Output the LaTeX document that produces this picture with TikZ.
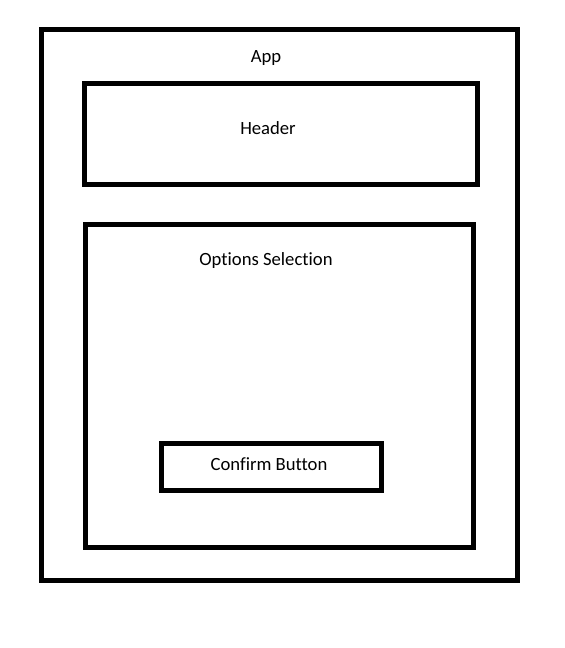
\documentclass[tikz,border=0pt]{standalone}
\usepackage{fontspec}
\setmainfont[Ligatures=NoCommon]{Carlito}
\begin{document}
\begin{tikzpicture}[x=0.75pt,y=-0.75pt,
  box/.style={draw=black,line width=3.75pt,inner sep=0pt,rectangle},
  lbl/.style={font=\fontsize{14pt}{16pt}\selectfont,text=black,inner sep=0pt}]
\useasboundingbox[fill=white] (0,0) rectangle (564,648);
\node[box,minimum width=356.5pt,minimum height=413.6pt] (app) at (279.35,304.75) {};
\node[box,minimum width=294.75pt,minimum height=75.75pt] (header) at (280.5,134.5) {};
\node[box,minimum width=290.5pt,minimum height=241.5pt] (options) at (279.65,386) {};
\node[box,minimum width=165.2pt,minimum height=34.9pt] (confirm) at (271.85,467.25) {};
\node[lbl] (tapp) at (266,58) {App};
\node[lbl] (theader) at (268,128) {Header};
\node[lbl] (toptions) at (266,261) {Options Selection};
\node[lbl] (tconfirm) at (269,464) {Confirm Button};
\end{tikzpicture}
\end{document}
